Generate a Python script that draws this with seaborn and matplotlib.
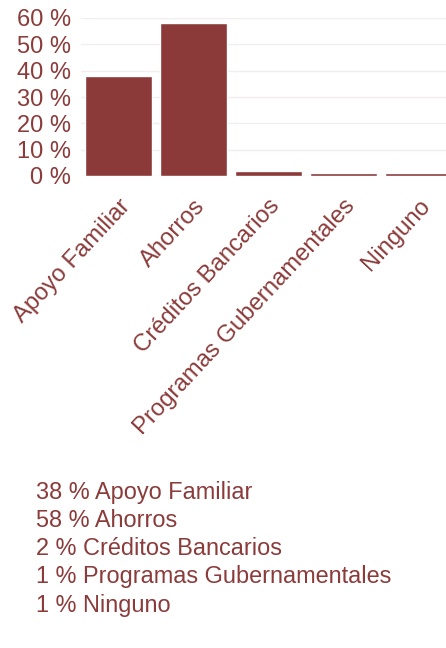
import pandas as pd
import matplotlib
matplotlib.use('Agg')
import matplotlib.pyplot as plt
import seaborn as sns

categorias = ['Apoyo Familiar', 'Ahorros', 'Créditos Bancarios',
              'Programas Gubernamentales', 'Ninguno']
porcentajes = [38, 58, 2, 1, 1]
ticks_y = [0, 10, 20, 30, 40, 50, 60]

color_barra = '#8b3a39'
color_texto = '#8a3b3a'

sns.set_style('white')
plt.rcParams['font.family'] = ['Liberation Sans', 'DejaVu Sans']

df = pd.DataFrame({'categoria': categorias, 'porcentaje': porcentajes})

fig = plt.figure(figsize=(4.46, 6.48), dpi=100)
ax = fig.add_axes([81 / 446, 1 - 176 / 648, 375 / 446, 158 / 648])

sns.barplot(data=df, x='categoria', y='porcentaje', color=color_barra,
            width=0.9, saturation=1, ax=ax)

ax.set_ylim(0, 60)
ax.set_xlim(-0.5, 4.5)
ax.set_yticks(ticks_y)
ax.set_yticklabels([f'{t} %' for t in ticks_y], fontsize=17, color=color_texto)
ax.set_xticks(range(len(categorias)))
ax.set_xticklabels(categorias, rotation=47, ha='right', rotation_mode='anchor',
                   fontsize=17.2, color=color_texto)
ax.tick_params(axis='y', length=0, pad=7)
ax.tick_params(axis='x', length=0, pad=14)
ax.yaxis.grid(True, color='#f3eeee', linewidth=1)
ax.set_axisbelow(True)
for s in ax.spines.values():
    s.set_visible(False)
ax.set_xlabel('')
ax.set_ylabel('')

y0 = 1 - 492 / 648
for i, (v, c) in enumerate(zip(porcentajes, categorias)):
    fig.text(36 / 446, y0 - i * 28.3 / 648, f'{v} % {c}', fontsize=16.9,
             color=color_texto, va='center', ha='left')

fig.savefig('out.png', dpi=100)
